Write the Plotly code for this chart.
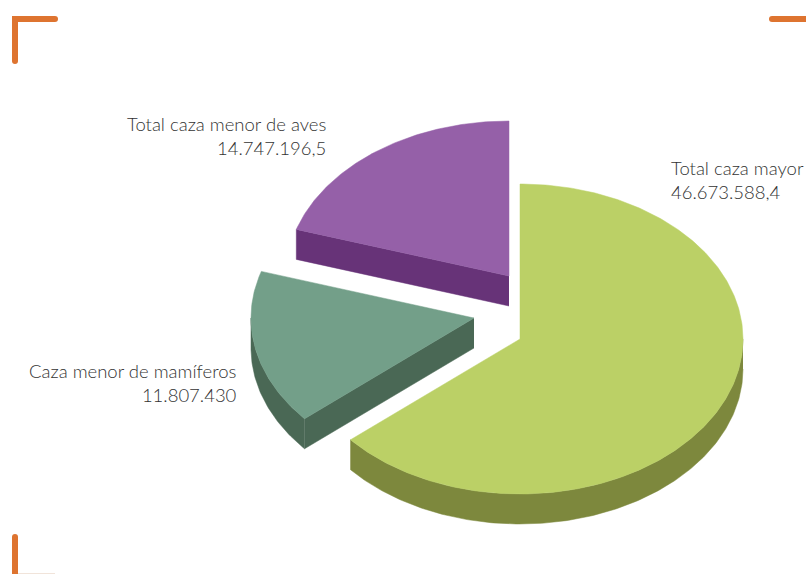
import numpy as np
import plotly.graph_objects as go

categories = ["Total caza mayor", "Caza menor de mamíferos", "Total caza menor de aves"]
values = [46673588.4, 11807430, 14747196.5]
value_labels = ["46.673.588,4", "11.807.430", "14.747.196,5"]
top_colors = ["#BBD066", "#739F89", "#9560A8"]
side_colors = ["#7D883D", "#4A6855", "#673378"]
apexes = [(520, 339), (474, 318), (509, 276)]
RX, RY, DEPTH = 223, 155, 30
FONT = "Lato, sans-serif"
W, H = 806, 574

fig = go.Figure()
total = sum(values)
start = 0.0
slices = []
for v, ax_ in zip(values, apexes):
    end = start + v / total * 2 * np.pi
    slices.append((start, end, ax_))
    start = end


def rim(a, b, apex):
    t = np.linspace(a, b, max(int((b - a) * 80), 2))
    return apex[0] + RX * np.sin(t), apex[1] - RY * np.cos(t)


def add_poly(x, y, color, name):
    fig.add_trace(go.Scatter(x=x, y=y, mode="lines", fill="toself", fillcolor=color,
                             line=dict(color=color, width=0.5), hoverinfo="text", text=name,
                             showlegend=False))


for (a, b, apex), side, name in zip(slices, side_colors, categories):
    # the part of the rim facing the viewer (front half of the ellipse)
    lo, hi = max(a, np.pi / 2), min(b, 3 * np.pi / 2)
    if hi > lo:
        x, y = rim(lo, hi, apex)
        add_poly(np.r_[x, x[::-1]], np.r_[y, y[::-1] + DEPTH], side, name)
    # the cut edge that looks towards the viewer
    if name != categories[0]:
        ex, ey = rim(a, a + 1e-6, apex)
        add_poly([apex[0], ex[0], ex[0], apex[0]],
                 [apex[1], ey[0], ey[0] + DEPTH, apex[1] + DEPTH], side, name)

for (a, b, apex), top, name in zip(slices, top_colors, categories):
    x, y = rim(a, b, apex)
    add_poly(np.r_[apex[0], x, apex[0]], np.r_[apex[1], y, apex[1]], top, name)

label_pos = [(669, 180, "left"), (239, 383, "right"), (328, 136, "right")]
for name, val, (lx, ly, anchor) in zip(categories, value_labels, label_pos):
    fig.add_annotation(x=lx, y=ly, text=f"{name}<br>{val}", showarrow=False, xanchor=anchor,
                       yanchor="middle", align=anchor,
                       font=dict(family=FONT, size=18.5, color="#333333", weight=300))

ORANGE = "#DE7430"
corner_x = [[15, 15, 55], [772, 806], [15, 15]]
corner_y = [[61, 19, 19], [19, 19], [537, 574]]
for cx, cy in zip(corner_x, corner_y):
    fig.add_trace(go.Scatter(x=cx, y=cy, mode="lines", line=dict(color=ORANGE, width=6),
                             hoverinfo="skip", showlegend=False))
    fig.add_trace(go.Scatter(x=[cx[0], cx[-1]], y=[cy[0], cy[-1]], mode="markers",
                             marker=dict(color=ORANGE, size=6), hoverinfo="skip", showlegend=False))
fig.add_trace(go.Scatter(x=[18, 55], y=[573.5, 573.5], mode="lines",
                         line=dict(color="#F1E4DA", width=1), hoverinfo="skip", showlegend=False))

fig.update_layout(width=W, height=H, autosize=False, margin=dict(l=0, r=0, t=0, b=0),
                  paper_bgcolor="white", plot_bgcolor="white", showlegend=False,
                  xaxis=dict(range=[0, W], visible=False, fixedrange=True),
                  yaxis=dict(range=[H, 0], visible=False, fixedrange=True))
fig.write_html("out.html", config={"displayModeBar": False},
               post_script="document.body.style.margin='0';document.documentElement.style.overflow='hidden';")
